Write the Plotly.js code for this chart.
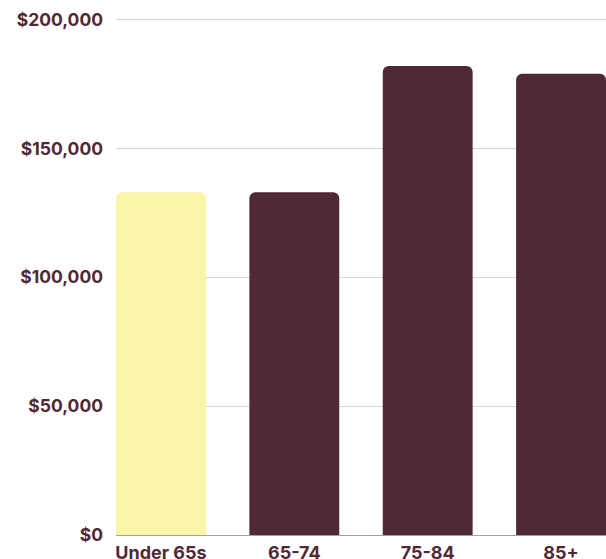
<!DOCTYPE html>
<html>
<head>
<meta charset="utf-8">
<script src="https://cdn.plot.ly/plotly-3.0.1.min.js"></script>
<style>html,body{margin:0;padding:0;background:#fff;}#chart{width:606px;height:559px;}</style>
</head>
<body>
<div id="chart"></div>
<script>
const categories = ["Under 65s", "65-74", "75-84", "85+"];
const values = [133000, 133000, 182000, 179000];
const barColors = ["#fcf4a8", "#4f2a36", "#4f2a36", "#4f2a36"];
const yTickValues = [0, 50000, 100000, 150000, 200000];
const yTickLabels = ["$0", "$50,000", "$100,000", "$150,000", "$200,000"];

const textColor = "#4f2a36";
const fontFamily = "Inter, 'Liberation Sans', sans-serif";

Plotly.newPlot("chart", [{
  type: "bar",
  x: categories,
  y: values,
  marker: { color: barColors, cornerradius: 6 },
  hoverinfo: "none"
}], {
  width: 606,
  height: 559,
  margin: { l: 116, r: 0, t: 17, b: 24, pad: 0 },
  paper_bgcolor: "#ffffff",
  plot_bgcolor: "#ffffff",
  bargap: 0.326,
  showlegend: false,
  xaxis: {
    type: "category",
    range: [-0.337, 3.337],
    showgrid: false,
    zeroline: false,
    showline: false,
    ticks: "",
    tickfont: { family: fontFamily, size: 18, color: textColor, weight: 700 },
    ticklabelstandoff: 5,
    fixedrange: true
  },
  yaxis: {
    range: [0, 201000],
    tickvals: yTickValues,
    ticktext: yTickLabels,
    showgrid: true,
    gridcolor: "#ddd3d6",
    gridwidth: 1,
    zeroline: true,
    zerolinecolor: "#a99ca1",
    zerolinewidth: 1,
    showline: false,
    ticks: "",
    tickfont: { family: fontFamily, size: 17.5, color: textColor, weight: 700 },
    ticklabelstandoff: 12,
    fixedrange: true
  }
}, { displayModeBar: false, staticPlot: true });
</script>
</body>
</html>
